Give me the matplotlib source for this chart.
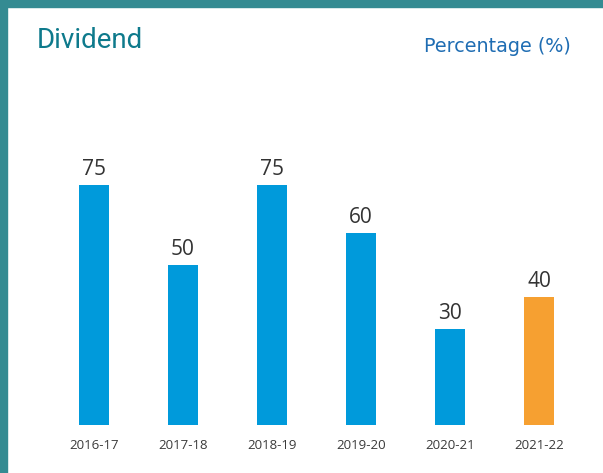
import matplotlib
matplotlib.use("Agg")
from matplotlib import pyplot as plt
from matplotlib.patches import Rectangle

years = ["2016-17", "2017-18", "2018-19", "2019-20", "2020-21", "2021-22"]
dividend = [75, 50, 75, 60, 30, 40]
bar_colors = ["#009ADB", "#009ADB", "#009ADB", "#009ADB", "#009ADB", "#F6A031"]

plt.rcParams['font.family'] = ['Open Sans', 'DejaVu Sans']

W, H = 603, 473
fig = plt.figure(figsize=(W / 100, H / 100), dpi=100)

# teal frame on top and left
fig.patches.append(Rectangle((0, (H - 7) / H), 1, 7 / H, transform=fig.transFigure,
                             color="#348B92", zorder=0))
fig.patches.append(Rectangle((0, 0), 7 / W, 1, transform=fig.transFigure,
                             color="#348B92", zorder=0))

# axes placed so bar centres / baseline line up with the reference
x0 = 94 - 0.6 * 89
x1 = 539 + 0.6 * 89
y_base = 425
y_top = 425 - 100 * 3.2
ax = fig.add_axes([x0 / W, (H - y_base) / H, (x1 - x0) / W, (y_base - y_top) / H])

pos = list(range(len(years)))
ax.bar(pos, dividend, width=0.34, color=bar_colors)
for p, v in zip(pos, dividend):
    ax.text(p, v + 1.5, str(v), ha='center', va='bottom', fontsize=15, color="#333333")

ax.set_xlim(-0.6, len(years) - 0.4)
ax.set_ylim(0, 100)
ax.set_xticks(pos)
ax.set_xticklabels(years, fontsize=9.5, color="#3a3a3a")
ax.tick_params(axis='x', length=0, pad=10)
ax.set_yticks([])
for s in ax.spines.values():
    s.set_visible(False)

fig.text(37 / W, 1 - 41 / H, "Dividend", fontsize=20, color="#0E7A8C",
         ha='left', va='center', family=['Roboto', 'DejaVu Sans'])
fig.text(571 / W, 1 - 47 / H, "Percentage (%)", fontsize=13.8, color="#1F6DB3",
         ha='right', va='center', family=['DejaVu Sans'])

fig.savefig("out.png", dpi=100, facecolor="white")
